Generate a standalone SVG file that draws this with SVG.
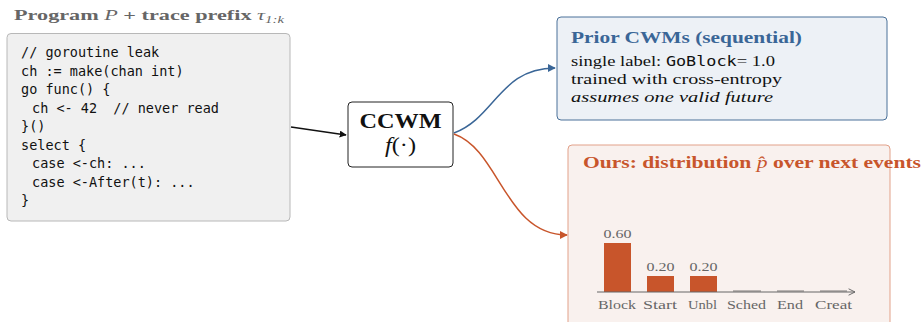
<svg xmlns="http://www.w3.org/2000/svg" width="922" height="322" viewBox="0 0 922 322">
<defs>
<style>
.serif{font-family:"Liberation Serif","DejaVu Serif",serif}
.bold{font-weight:bold}
.ital{font-style:italic}
.mono{font-family:"DejaVu Sans Mono","Liberation Mono",monospace;font-size:13.5px;fill:#111;white-space:pre}
.code{fill:#f0f0f0;stroke:#b8b8b8;stroke-width:1}
.gray{fill:#666}
.blue{fill:#3a6697}
.orange{fill:#c8552b}
.bar{fill:#c8552b}
.zbar{fill:#b9b3b1}
.val{font-size:12.5px;fill:#666;text-anchor:middle}
.lab{font-size:13px;fill:#666;text-anchor:middle}
</style>
<marker id="ahK" viewBox="0 0 10 10" refX="9" refY="5" markerWidth="7" markerHeight="7" orient="auto" markerUnits="userSpaceOnUse"><path d="M0,0 L10,5 L0,10 Z" fill="#111"/></marker>
<marker id="ahB" viewBox="0 0 10 10" refX="9" refY="5" markerWidth="8" markerHeight="8" orient="auto" markerUnits="userSpaceOnUse"><path d="M0,0 L10,5 L0,10 Z" fill="#3a6697"/></marker>
<marker id="ahO" viewBox="0 0 10 10" refX="9" refY="5" markerWidth="8" markerHeight="8" orient="auto" markerUnits="userSpaceOnUse"><path d="M0,0 L10,5 L0,10 Z" fill="#c8552b"/></marker>
<marker id="ahA" viewBox="0 0 10 10" refX="9" refY="5" markerWidth="8" markerHeight="8" orient="auto" markerUnits="userSpaceOnUse"><path d="M1,1 L9,5 L1,9" fill="none" stroke="#666" stroke-width="1.2"/></marker>
</defs>
<rect width="922" height="322" fill="#ffffff"/>

<g id="program">
<text class="serif bold gray" x="14" y="20" font-size="15" textLength="270" lengthAdjust="spacingAndGlyphs">Program <tspan class="ital" font-weight="normal">P</tspan> + trace prefix <tspan class="ital" font-weight="normal">τ</tspan><tspan font-size="10" font-weight="normal" class="ital" dy="3">1:k</tspan></text>
<rect class="code" x="7" y="33.5" width="283" height="187.5" rx="4"/>
<text class="mono" x="21" y="57">// goroutine leak</text>
<text class="mono" x="21" y="76">ch := make(chan int)</text>
<text class="mono" x="21" y="94">go func() {</text>
<text class="mono" x="32" y="113" xml:space="preserve">ch &lt;- 42  // never read</text>
<text class="mono" x="21" y="131">}()</text>
<text class="mono" x="21" y="150">select {</text>
<text class="mono" x="32" y="168">case &lt;-ch: ...</text>
<text class="mono" x="32" y="187">case &lt;-After(t): ...</text>
<text class="mono" x="21" y="205">}</text>
</g>

<g id="ccwm">
<rect x="348" y="102" width="105" height="65" rx="4" fill="#ffffff" stroke="#222" stroke-width="1"/>
<text class="serif bold" x="400.5" y="128" font-size="20.5" text-anchor="middle" fill="#111" textLength="82" lengthAdjust="spacingAndGlyphs">CCWM</text>
<text class="serif" x="400.5" y="152" font-size="21" text-anchor="middle" fill="#111" textLength="31" lengthAdjust="spacingAndGlyphs"><tspan class="ital">f</tspan>(·)</text>
</g>

<g id="prior">
<rect x="557" y="17" width="330" height="103" rx="4" fill="#edf1f6" stroke="#4a7199" stroke-width="1"/>
<text class="serif bold blue" x="571" y="43" font-size="16.5" textLength="231" lengthAdjust="spacingAndGlyphs">Prior CWMs (sequential)</text>
<text class="serif" x="571" y="66" font-size="15.5" fill="#111" textLength="204" lengthAdjust="spacingAndGlyphs">single label: <tspan font-family="DejaVu Sans Mono,monospace" font-size="14">GoBlock</tspan>= 1.0</text>
<text class="serif" x="571" y="84" font-size="15.5" fill="#111" textLength="211" lengthAdjust="spacingAndGlyphs">trained with cross-entropy</text>
<text class="serif ital" x="571" y="102" font-size="15.5" fill="#111" textLength="202" lengthAdjust="spacingAndGlyphs">assumes one valid future</text>
</g>

<g id="ours">
<rect x="568" y="145" width="322" height="190" rx="4" fill="#f9f1ee" stroke="#e2a189" stroke-width="1"/>
<text class="serif bold orange" x="583" y="168" font-size="16.5" textLength="338" lengthAdjust="spacingAndGlyphs">Ours: distribution <tspan class="ital" font-weight="normal">p̂</tspan> over next events</text>
<g id="chart">
<rect class="bar" x="604" y="243" width="27" height="49"/>
<rect class="bar" x="647" y="276" width="27" height="16"/>
<rect class="bar" x="690" y="276" width="27" height="16"/>
<rect class="zbar" x="733" y="290" width="28" height="2"/>
<rect class="zbar" x="777" y="290" width="27" height="2"/>
<rect class="zbar" x="820" y="290" width="27" height="2"/>
<line x1="597" y1="292" x2="855" y2="292" stroke="#666" stroke-width="1" marker-end="url(#ahA)"/>
<text class="serif val" x="617.5" y="238" textLength="28" lengthAdjust="spacingAndGlyphs">0.60</text>
<text class="serif val" x="660.5" y="271" textLength="28" lengthAdjust="spacingAndGlyphs">0.20</text>
<text class="serif val" x="703.5" y="271" textLength="28" lengthAdjust="spacingAndGlyphs">0.20</text>
<text class="serif lab" x="617" y="309" textLength="38" lengthAdjust="spacingAndGlyphs">Block</text>
<text class="serif lab" x="660" y="309" textLength="34" lengthAdjust="spacingAndGlyphs">Start</text>
<text class="serif lab" x="702.5" y="309" textLength="29" lengthAdjust="spacingAndGlyphs">Unbl</text>
<text class="serif lab" x="746.5" y="309" textLength="39" lengthAdjust="spacingAndGlyphs">Sched</text>
<text class="serif lab" x="790" y="309" textLength="26" lengthAdjust="spacingAndGlyphs">End</text>
<text class="serif lab" x="833.5" y="309" textLength="37" lengthAdjust="spacingAndGlyphs">Creat</text>
</g>
</g>

<g id="connectors" fill="none">
<path d="M291,127 L346,135" stroke="#111" stroke-width="1.5" marker-end="url(#ahK)"/>
<path d="M454,133 C495,118 500,68 555,68" stroke="#3a6697" stroke-width="1.5" marker-end="url(#ahB)"/>
<path d="M454,134 C500,150 505,235 567,235" stroke="#c8552b" stroke-width="1.5" marker-end="url(#ahO)"/>
</g>
</svg>
